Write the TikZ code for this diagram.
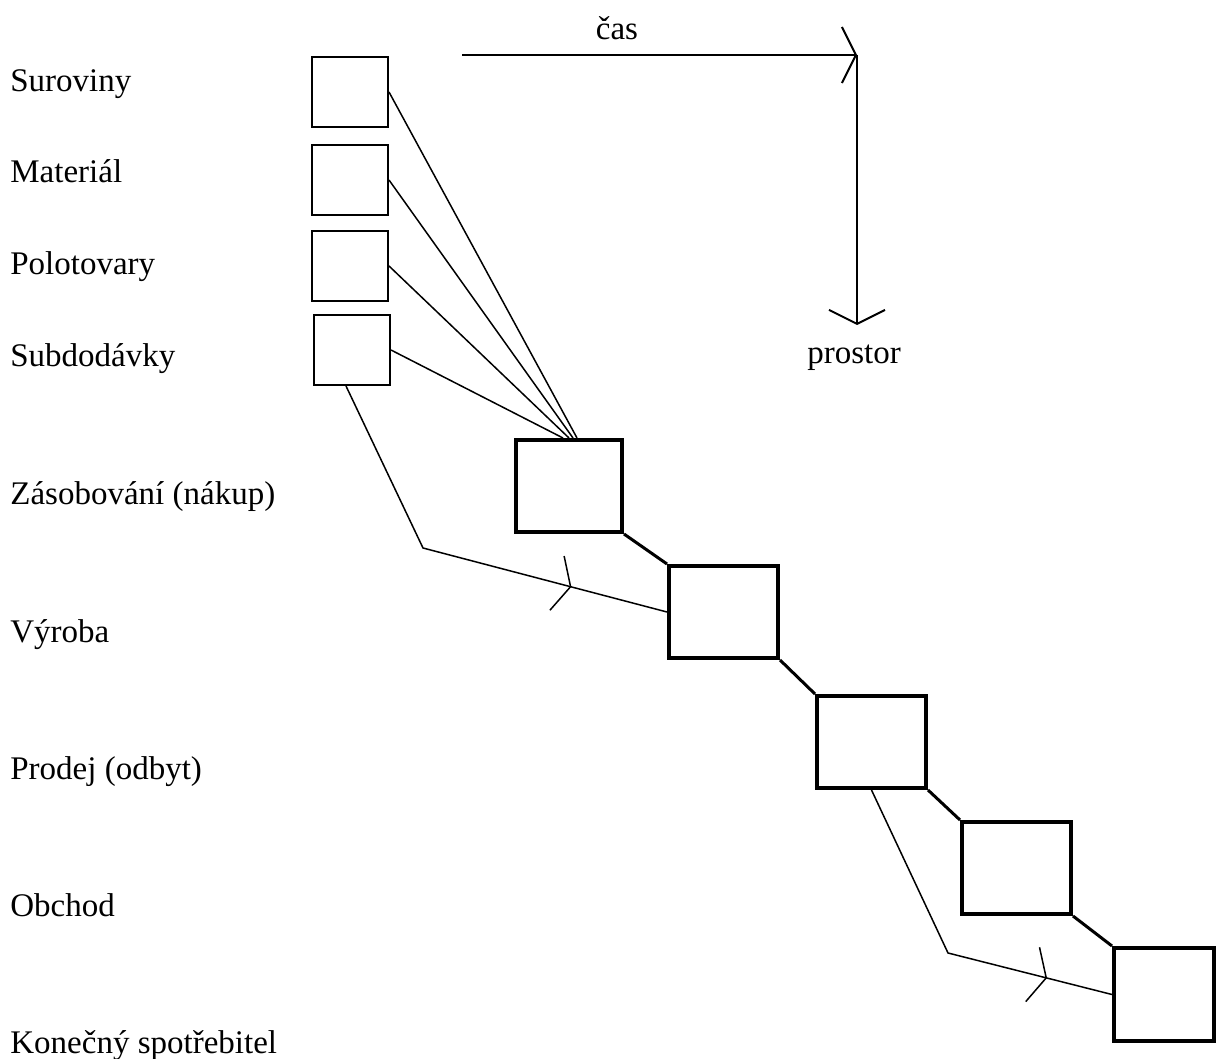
\documentclass[tikz,border=0pt]{standalone}
\usepackage{fontspec}
\setmainfont{Liberation Serif}
\usetikzlibrary{arrows.meta,decorations.markings}

\begin{document}
\begin{tikzpicture}[x=0.5pt,y=-0.5pt,
    >={Straight Barb[length=7pt,width=28pt]},
    lbl/.style={anchor=base west,font=\fontsize{16.5}{20}\selectfont},
    sbox/.style={draw,line width=1pt,minimum width=38pt,minimum height=35pt},
    bbox/.style={draw,line width=2pt,minimum width=54.5pt,minimum height=46pt},
    feed/.style={line width=0.75pt},
    link/.style={line width=1.5pt},
    midarrow/.style={postaction={decorate},
      decoration={markings,mark=at position #1 with {\arrow{>}}}}]
		\tikzstyle{every node}+=[inner sep=0pt]
		\useasboundingbox (0,0) rectangle (1216,1059);
		% labels on the left
		\node [lbl] (tsur) at (10,92) {Suroviny};
		\node [lbl] (tmat) at (10,183) {Materiál};
		\node [lbl] (tpol) at (10,275) {Polotovary};
		\node [lbl] (tsub) at (10,366) {Subdodávky};
		\node [lbl] (tzas) at (10,504) {Zásobování (nákup)};
		\node [lbl] (tvyr) at (10,642) {Výroba};
		\node [lbl] (tpro) at (10,779) {Prodej (odbyt)};
		\node [lbl] (tobc) at (10,916) {Obchod};
		\node [lbl] (tkon) at (10,1053) {Konečný spotřebitel};
		% small boxes
		\node [sbox] (sur) at (350,92) {};
		\node [sbox] (mat) at (350,180) {};
		\node [sbox] (pol) at (350,266) {};
		\node [sbox] (sub) at (352,350) {};
		% big boxes
		\node [bbox,minimum width=53pt] (zas) at (569,486) {};
		\node [bbox] (vyr) at (723.5,612) {};
		\node [bbox] (pro) at (871.5,742) {};
		\node [bbox] (obc) at (1016.5,868) {};
		\node [bbox,minimum width=50pt,minimum height=46.5pt] (kon) at (1164,994.5) {};
		% axes
		\coordinate (ax0) at (462,55);
		\coordinate (axc) at (857,55);
		\coordinate (ax1) at (857,325);
		\draw [line width=1pt,->] (ax0) -- (axc);
		\draw [line width=1pt,->] (axc) -- (ax1);
		\node [font=\fontsize{16.5}{20}\selectfont] (cas) at (617,28) {čas};
		\node [font=\fontsize{16.5}{20}\selectfont] (pros) at (854,358) {prostor};
		% feeds into purchasing
		\draw [feed] (sur.east) -- ([xshift=4pt]zas.north);
		\draw [feed] (mat.east) -- ([xshift=2pt]zas.north);
		\draw [feed] (pol.east) -- ([xshift=0pt]zas.north);
		\draw [feed] (sub.east) -- ([xshift=-3pt]zas.north);
		% chain
		\draw [link] (zas.south east) -- (vyr.north west);
		\draw [link] (vyr.south east) -- (pro.north west);
		\draw [link] (pro.south east) -- (obc.north west);
		\draw [link] (obc.south east) -- (kon.north west);
		% bypass lines
		\coordinate (b1) at (423,548);
		\coordinate (b2) at (948,953);
		\draw [feed,midarrow=0.771] ([xshift=-3pt]sub.south) -- (b1) -- (vyr.west);
		\draw [feed,midarrow=0.808] (pro.south) -- (b2) -- (kon.west);
	\end{tikzpicture}
\end{document}
